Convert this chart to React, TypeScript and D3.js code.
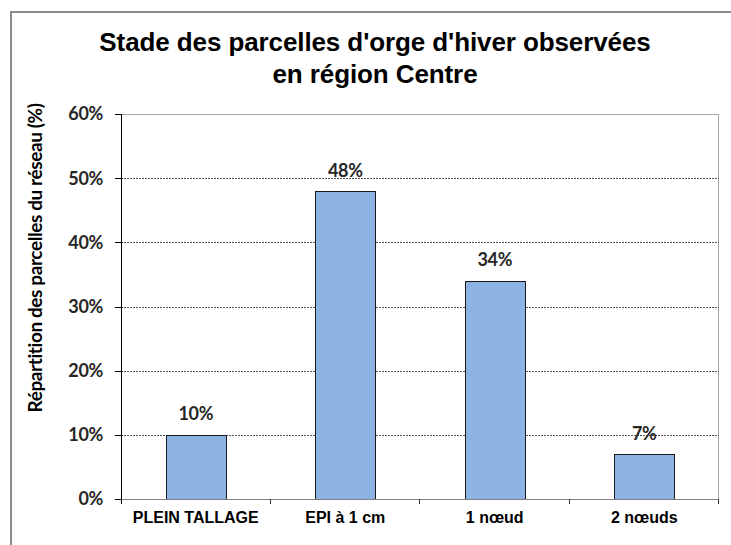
import React from "react";
import * as d3 from "d3";

const categories = ["PLEIN TALLAGE", "EPI à 1 cm", "1 nœud", "2 nœuds"];
const values = [10, 48, 34, 7];
const yTicks = [0, 10, 20, 30, 40, 50, 60];
const titleLines = ["Stade des parcelles d'orge d'hiver observées", "en région Centre"];
const yTitle = "Répartition des parcelles du réseau (%)";

export default function App() {
  const W = 731, H = 545;
  const left = 121, right = 719, top = 114, bottom = 499;
  const x = d3.scaleBand<string>().domain(categories).range([left, right]).paddingInner(0.6).paddingOuter(0.3);
  const xb = d3.scaleBand<string>().domain(categories).range([left, right]).padding(0);
  const y = d3.scaleLinear().domain([0, 60]).range([bottom, top]);
  const calibri = "Lato, 'Open Sans', sans-serif";
  const arial = "'Liberation Sans', Arial, sans-serif";
  const boundaries = categories.map((c) => (xb(c) as number) + xb.bandwidth());
  return (
    <svg width={W} height={H} style={{ position: "absolute", left: 0, top: 0, display: "block" }}>
      <rect x={0} y={0} width={W} height={H} fill="#fff" />
      <line x1={11} x2={W} y1={12} y2={12} stroke="#8c8c8c" strokeWidth={2} />
      <line x1={11} x2={11} y1={11} y2={H} stroke="#8c8c8c" strokeWidth={2} />
      {titleLines.map((t, i) => (
        <text key={i} x={375} y={51 + i * 32} textAnchor="middle" fontFamily={arial} fontWeight="bold" fontSize={26} letterSpacing={-0.1} fill="#000">
          {t}
        </text>
      ))}
      {/* plot border */}
      <line x1={left} x2={right} y1={top + 0.5} y2={top + 0.5} stroke="#a6a6a6" />
      <line x1={right - 0.5} x2={right - 0.5} y1={top} y2={bottom} stroke="#a6a6a6" />
      {/* gridlines */}
      {yTicks.filter((t) => t > 0 && t < 60).map((t) => (
        <line key={t} x1={left} x2={right} y1={Math.round(y(t)) + 0.5} y2={Math.round(y(t)) + 0.5} stroke="#555" strokeDasharray="2 1" />
      ))}
      {/* bars */}
      {categories.map((c, i) => (
        <rect key={c} x={Math.round(x(c) as number) + 0.5} y={Math.round(y(values[i])) + 0.5} width={Math.round(x.bandwidth())} height={Math.round(y(0)) - Math.round(y(values[i]))} fill="#8db3e2" stroke="#1a1a1a" strokeWidth={1} />
      ))}
      {/* value labels */}
      {categories.map((c, i) => (
        <text key={c} x={(x(c) as number) + x.bandwidth() / 2} y={y(values[i]) - 14.5} textAnchor="middle" fontFamily={calibri} fontWeight="bold" fontSize={18} letterSpacing={-0.3} fill="#262626">
          {values[i]}%
        </text>
      ))}
      {/* axes */}
      <line x1={115} x2={right} y1={bottom + 0.5} y2={bottom + 0.5} stroke="#808080" />
      <line x1={left + 0.5} x2={left + 0.5} y1={top} y2={bottom + 5} stroke="#000" />
      {yTicks.map((t) => (
        <g key={t}>
          <line x1={115} x2={left} y1={Math.round(y(t)) + 0.5} y2={Math.round(y(t)) + 0.5} stroke="#000" />
          <text x={103} y={y(t)} dy="0.36em" textAnchor="end" fontFamily={calibri} fontWeight="bold" fontSize={18} letterSpacing={-0.3} fill="#262626">
            {t}%
          </text>
        </g>
      ))}
      {boundaries.map((b, i) => (
        <line key={i} x1={Math.round(b) - 0.5} x2={Math.round(b) - 0.5} y1={bottom} y2={bottom + 5} stroke="#333" />
      ))}
      {categories.map((c) => (
        <text key={c} x={(xb(c) as number) + xb.bandwidth() / 2} y={523} textAnchor="middle" fontFamily={arial} fontWeight="bold" fontSize={16} fill="#000">
          {c}
        </text>
      ))}
      <text transform={`translate(42, 258) rotate(-90)`} textAnchor="middle" fontFamily={calibri} fontWeight="bold" fontSize={19} letterSpacing={-0.4} fill="#000">
        {yTitle}
      </text>
    </svg>
  );
}
